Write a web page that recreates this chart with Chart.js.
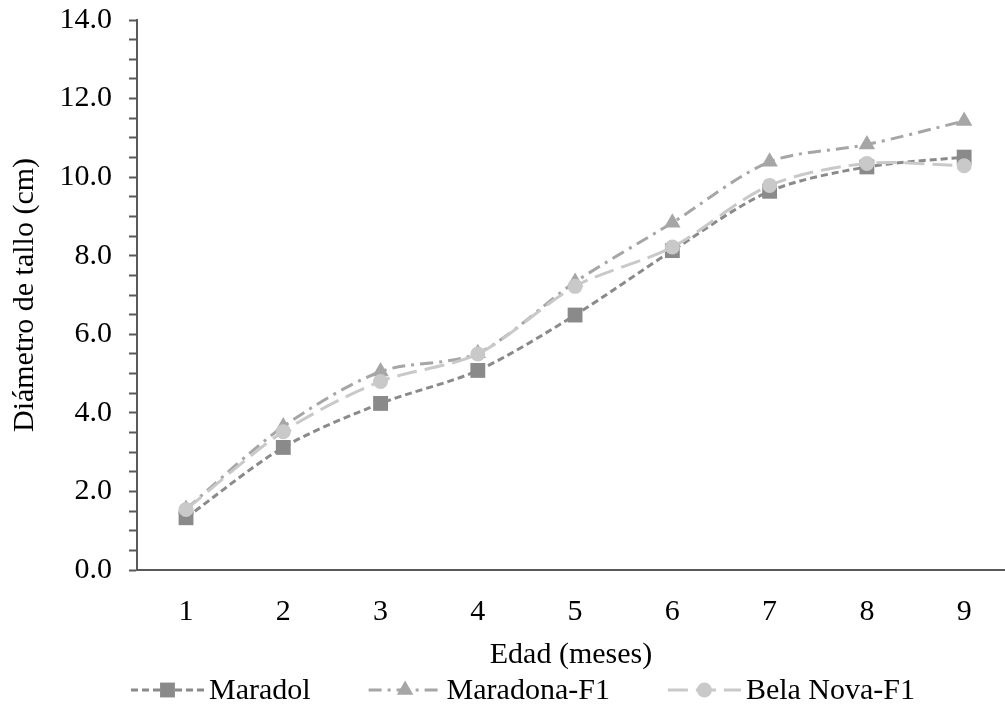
<!DOCTYPE html>
<html>
<head>
<meta charset="utf-8">
<script src="https://cdn.jsdelivr.net/npm/chart.js@4/dist/chart.umd.min.js"></script>
<style>
  html, body { margin: 0; padding: 0; background: #fff; overflow: hidden; }
  #wrap { width: 1005px; height: 713px; position: relative; }
  canvas { display: block; }
</style>
</head>
<body>
<div id="wrap"><canvas id="diametro-chart"></canvas></div>
<script>
const meses = [1, 2, 3, 4, 5, 6, 7, 8, 9];
const maradol = [1.33, 3.12, 4.24, 5.08, 6.49, 8.13, 9.64, 10.26, 10.51];
const maradonaF1 = [1.55, 3.65, 5.05, 5.52, 7.33, 8.84, 10.39, 10.83, 11.43];
const belaNovaF1 = [1.54, 3.52, 4.80, 5.50, 7.22, 8.22, 9.79, 10.35, 10.29];
const serieNames = ['Maradol', 'Maradona-F1', 'Bela Nova-F1'];

const FONT = '"Liberation Serif", "Times New Roman", serif';

const STYLES = [
  { color: '#8a8a8a', dash: [7, 4], point: 'rect', radius: 10.5 },
  { color: '#a6a6a6', dash: [13, 6, 3, 6], point: 'triangle', radius: 9.5 },
  { color: '#c9c9c9', dash: [20, 8], point: 'circle', radius: 7.5 },
];

function toPoints(arr) {
  return meses.map((m, i) => ({ x: m, y: arr[i] }));
}

// legend drawn by hand: dashed line sample with the marker in the middle
const sampleLegend = {
  id: 'sampleLegend',
  afterDraw(chart) {
    const ctx = chart.ctx;
    ctx.save();
    ctx.font = '30px ' + FONT;
    const sampleW = 73, gapText = 5, gapItem = 58;
    const widths = serieNames.map(n => sampleW + gapText + ctx.measureText(n).width);
    const total = widths.reduce((a, b) => a + b, 0) + gapItem * (widths.length - 1);
    let x = 523 - total / 2;
    const y = 690;
    serieNames.forEach((name, i) => {
      const st = STYLES[i];
      ctx.strokeStyle = st.color;
      ctx.lineWidth = 3;
      ctx.setLineDash(st.dash);
      ctx.beginPath();
      ctx.moveTo(x, y);
      ctx.lineTo(x + sampleW, y);
      ctx.stroke();
      ctx.setLineDash([]);
      drawMarker(ctx, st.point, x + sampleW / 2, y, st.radius, st.color);
      ctx.fillStyle = '#000';
      ctx.textBaseline = 'middle';
      ctx.textAlign = 'left';
      ctx.fillText(name, x + sampleW + gapText, y + 1);
      x += widths[i] + gapItem;
    });
    ctx.restore();
  }
};

function drawMarker(ctx, style, x, y, r, color) {
  ctx.fillStyle = color;
  ctx.beginPath();
  if (style === 'rect') {
    const s = Math.SQRT1_2 * r;
    ctx.rect(x - s, y - s, 2 * s, 2 * s);
  } else if (style === 'triangle') {
    ctx.moveTo(x, y - r);
    ctx.lineTo(x + r * Math.sin(Math.PI / 3), y + r * 0.5);
    ctx.lineTo(x - r * Math.sin(Math.PI / 3), y + r * 0.5);
    ctx.closePath();
  } else {
    ctx.arc(x, y, r, 0, Math.PI * 2);
  }
  ctx.fill();
}

const series = [maradol, maradonaF1, belaNovaF1];
const datasets = series.map((arr, i) => ({
  label: serieNames[i],
  data: toPoints(arr),
  borderColor: STYLES[i].color,
  backgroundColor: STYLES[i].color,
  pointBackgroundColor: STYLES[i].color,
  pointBorderColor: STYLES[i].color,
  pointBorderWidth: 0,
  borderWidth: 3,
  borderDash: STYLES[i].dash,
  pointStyle: STYLES[i].point,
  pointRadius: STYLES[i].radius,
  tension: 0.3,
  order: 2 - i,
}));

const ctx = document.getElementById('diametro-chart').getContext('2d');
new Chart(ctx, {
  type: 'line',
  data: { datasets: datasets },
  options: {
    responsive: true,
    maintainAspectRatio: false,
    animation: false,
    layout: { autoPadding: false, padding: { top: 20, right: 0, bottom: 43, left: 0 } },
    plugins: {
      legend: { display: false },
      tooltip: { enabled: false },
    },
    scales: {
      x: {
        type: 'linear',
        min: 0.496,
        max: 9.42,
        afterBuildTicks: scale => { scale.ticks = meses.map(v => ({ value: v })); },
        afterFit: scale => {
          scale.height = 100;
          scale.paddingLeft = 0;
          scale.paddingRight = 0;
        },
        grid: { display: false },
        border: { display: true, color: '#595959', width: 2 },
        ticks: {
          color: '#000',
          padding: 16,
          font: { family: FONT, size: 30 },
          callback: v => String(v),
        },
        title: {
          display: true,
          text: 'Edad (meses)',
          color: '#000',
          padding: 0,
          font: { family: FONT, size: 30, lineHeight: 1 },
        },
      },
      y: {
        min: 0,
        max: 14,
        afterFit: scale => {
          scale.width = 137;
          scale.paddingTop = 0;
          scale.paddingBottom = 0;
        },
        grid: {
          drawOnChartArea: false,
          drawTicks: true,
          tickLength: 8,
          tickWidth: 2,
          color: '#595959',
        },
        border: { display: true, color: '#595959', width: 2 },
        ticks: {
          stepSize: 0.5,
          autoSkip: false,
          color: '#000',
          padding: 17,
          font: { family: FONT, size: 30 },
          callback: v => (v % 2 === 0 ? v.toFixed(1) : ''),
        },
        title: {
          display: true,
          text: 'Diámetro de tallo (cm)',
          color: '#000',
          padding: { top: 10, bottom: 0 },
          font: { family: FONT, size: 30, lineHeight: 1 },
        },
      },
    },
  },
  plugins: [sampleLegend],
});
</script>
</body>
</html>
